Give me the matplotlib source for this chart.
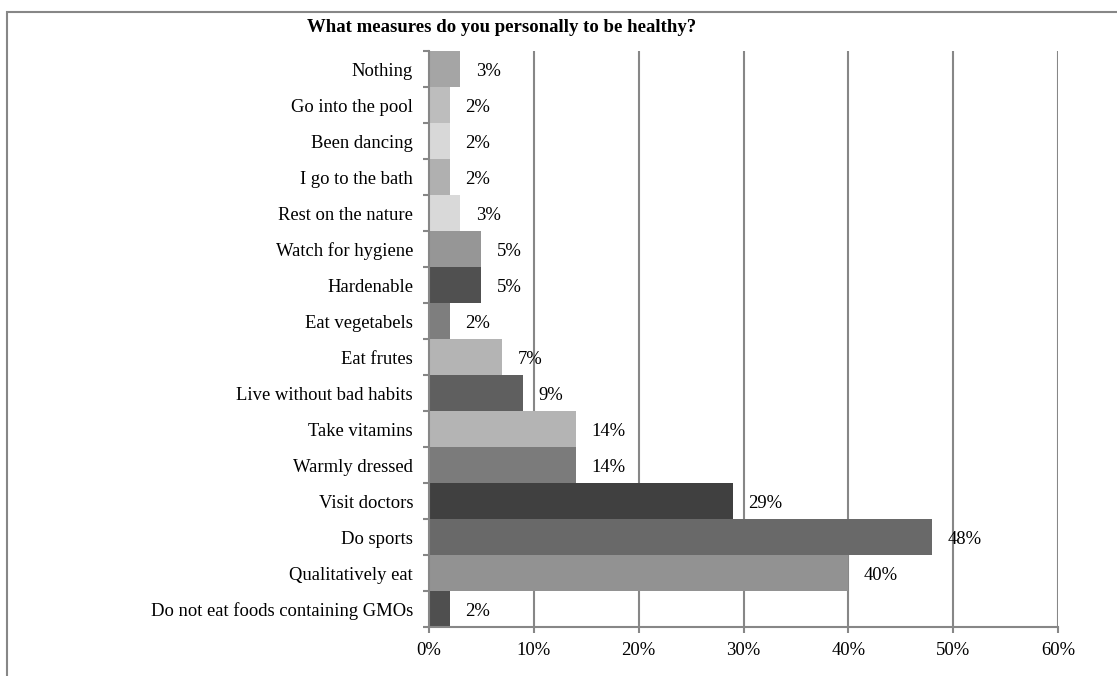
import matplotlib
matplotlib.use("Agg")
import matplotlib.pyplot as plt
from matplotlib.patches import Rectangle
from matplotlib.ticker import FixedLocator, PercentFormatter

# categories listed top to bottom as in the chart
categories = [
    "Nothing",
    "Go into the pool",
    "Been dancing",
    "I go to the bath",
    "Rest on the nature",
    "Watch for hygiene",
    "Hardenable",
    "Eat vegetabels",
    "Eat frutes",
    "Live without bad habits",
    "Take vitamins",
    "Warmly dressed",
    "Visit doctors",
    "Do sports",
    "Qualitatively eat",
    "Do not eat foods containing GMOs",
]
values = [3, 2, 2, 2, 3, 5, 5, 2, 7, 9, 14, 14, 29, 48, 40, 2]
bar_colors = [
    "#a5a5a5", "#bdbdbd", "#d8d8d8", "#b0b0b0", "#d9d9d9", "#969696",
    "#505050", "#7e7e7e", "#b4b4b4", "#5f5f5f", "#b4b4b4", "#7b7b7b",
    "#404040", "#696969", "#929292", "#4f4f4f",
]
x_ticks = [0, 10, 20, 30, 40, 50, 60]
title = "What measures do you personally to be healthy?"

plt.rcParams['font.family'] = ['Liberation Serif', 'DejaVu Serif']
plt.rcParams['font.size'] = 13.4
grey = "#878787"

fig = plt.figure(figsize=(11.17, 6.76), dpi=100)
ax = fig.add_axes([429 / 1117, 1 - 627 / 676, (1058 - 429) / 1117, (627 - 51) / 676])

ypos = list(range(len(categories)))
ax.barh(ypos, values, height=1.0, color=bar_colors, zorder=3)
ax.set_ylim(len(categories) - 0.5, -0.5)
ax.set_xlim(0, 60)

for y, v in zip(ypos, values):
    ax.annotate(f"{v}%", (v, y), xytext=(11, -2), textcoords="offset points",
                ha="left", va="center", zorder=4)

ax.set_yticks(ypos)
ax.set_yticklabels(categories)
ax.yaxis.set_minor_locator(FixedLocator([i - 0.5 for i in range(len(categories) + 1)]))
ax.tick_params(axis="y", which="major", length=0, pad=11.5)
ax.tick_params(axis="y", which="minor", length=4.5, width=1.5, color=grey)

ax.set_xticks(x_ticks)
ax.xaxis.set_major_formatter(PercentFormatter(decimals=0))
ax.tick_params(axis="x", length=4.5, width=1.5, color=grey, pad=6.5)

ax.grid(axis="x", color=grey, linewidth=1.5, zorder=0)
for s in ["top", "right"]:
    ax.spines[s].set_visible(False)
for s in ["left", "bottom"]:
    ax.spines[s].set_color(grey)
    ax.spines[s].set_linewidth(1.5)
    ax.spines[s].set_zorder(5)

fig.text(502 / 1117, 1 - 27 / 676, title, ha="center", va="center",
         fontsize=13.5, fontweight="bold")

# outer chart frame (right and bottom edges fall outside the picture)
fig.patches.append(Rectangle((6.5 / 1117, -0.1), 1.2, 1.1 - 11.5 / 676,
                             transform=fig.transFigure, fill=False,
                             edgecolor=grey, linewidth=1.5))

fig.savefig("out.png", dpi=100)
